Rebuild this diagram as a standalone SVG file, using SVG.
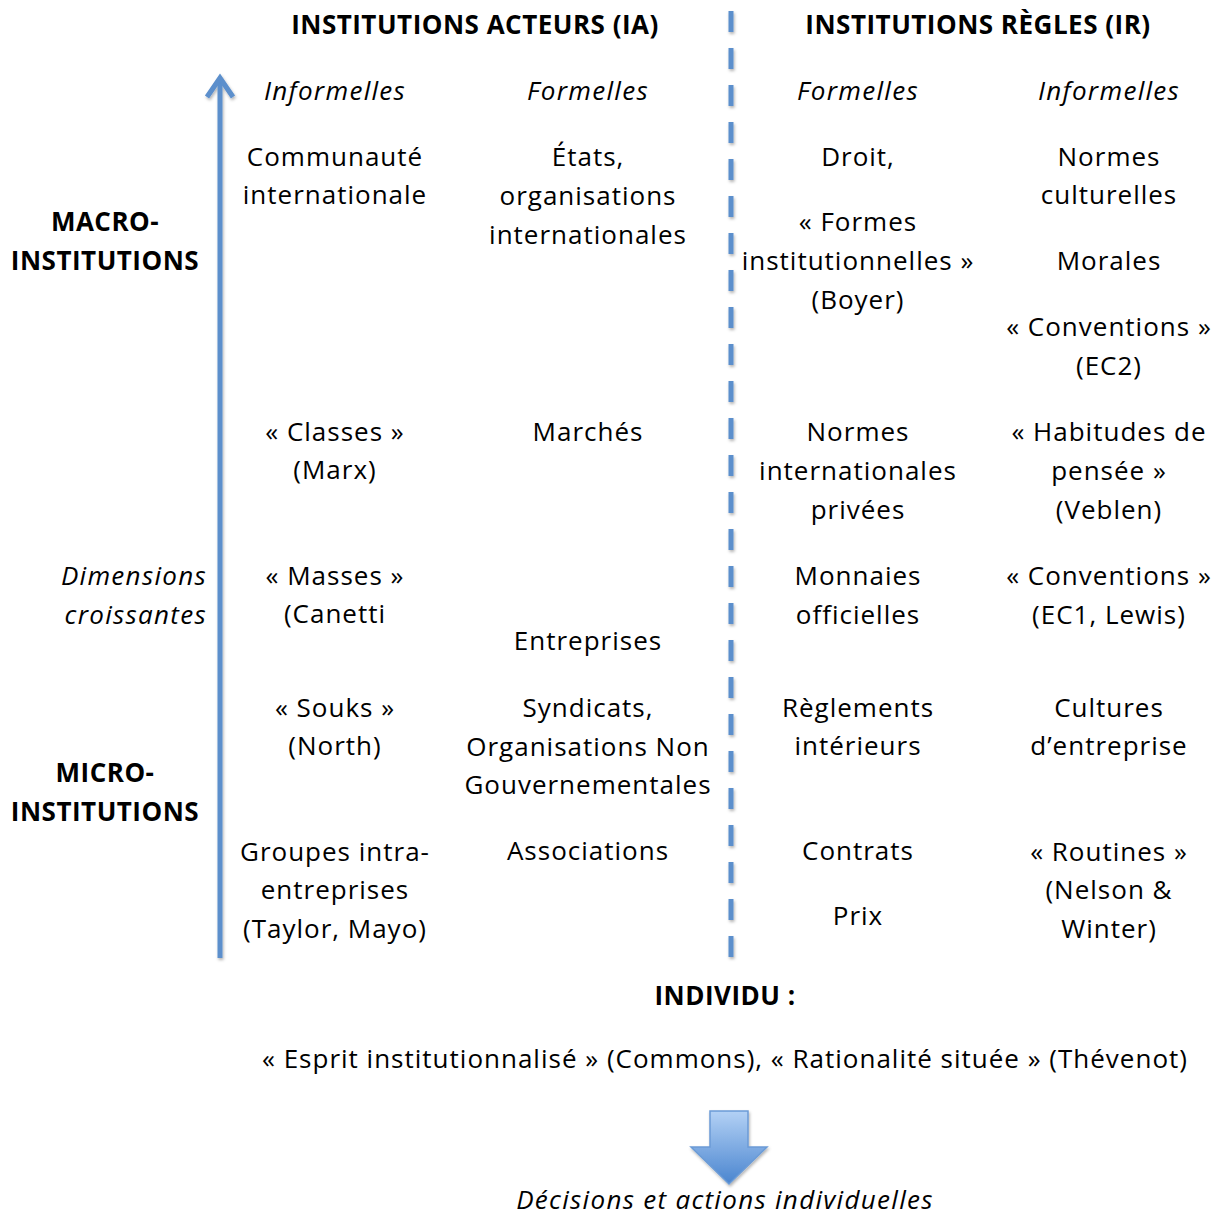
<svg xmlns="http://www.w3.org/2000/svg" width="1223" height="1215" viewBox="0 0 1223 1215">
<defs>
<style>
text{font-family:"Open Sans",Lato,"Liberation Sans",sans-serif;font-size:26px;letter-spacing:1px;fill:#000;text-anchor:middle}
.b{font-weight:bold;letter-spacing:0.5px}
.i{font-style:italic;letter-spacing:1.3px}
.r{text-anchor:end}
</style>
<linearGradient id="g" x1="0" y1="0" x2="0" y2="1">
<stop offset="0" stop-color="#b3d1f5"/>
<stop offset="1" stop-color="#4a85cf"/>
</linearGradient>
<filter id="sh" filterUnits="userSpaceOnUse" x="0" y="0" width="1223" height="1215">
<feDropShadow dx="1" dy="2" stdDeviation="1.5" flood-color="#000" flood-opacity="0.3"/>
</filter>
</defs>
<rect width="1223" height="1215" fill="#fff"/>
<g id="connectors">
<line id="separator" x1="731" y1="11" x2="731" y2="962" stroke="#5b8fcc" stroke-width="5" stroke-dasharray="21 16" filter="url(#sh)"/>
<g id="dimension-arrow" filter="url(#sh)" stroke="#5b8fcc" stroke-width="5" fill="none">
<line x1="220" y1="958" x2="220" y2="80"/>
<polyline points="207,97 220,78 233,97"/>
</g>
<path id="down-arrow" d="M710,1111 H748 V1147 H767 L729,1184 L691,1147 H710 Z" fill="url(#g)" stroke="#6b9bd6" stroke-width="1.5" filter="url(#sh)"/>
</g>
<g id="headers">
<text class="b" x="475" y="34">INSTITUTIONS ACTEURS (IA)</text>
<text class="b" x="978" y="34">INSTITUTIONS RÈGLES (IR)</text>
<text class="i" x="335" y="100">Informelles</text>
<text class="i" x="588" y="100">Formelles</text>
<text class="i" x="858" y="100">Formelles</text>
<text class="i" x="1109" y="100">Informelles</text>
</g>
<g id="levels">
<text class="b" x="105" y="231">MACRO-</text>
<text class="b" x="105" y="270">INSTITUTIONS</text>
<text class="i r" x="207" y="585">Dimensions</text>
<text class="i r" x="207" y="624">croissantes</text>
<text class="b" x="105" y="782">MICRO-</text>
<text class="b" x="105" y="821">INSTITUTIONS</text>
</g>
<g id="ia-informelles">
<text x="335" y="166">Communauté</text>
<text x="335" y="204">internationale</text>
<text x="335" y="441">« Classes »</text>
<text x="335" y="479">(Marx)</text>
<text x="335" y="585">« Masses »</text>
<text x="335" y="623">(Canetti</text>
<text x="335" y="717">« Souks »</text>
<text x="335" y="755">(North)</text>
<text x="335" y="861">Groupes intra-</text>
<text x="335" y="899">entreprises</text>
<text x="335" y="938">(Taylor, Mayo)</text>
</g>
<g id="ia-formelles">
<text x="588" y="166">États,</text>
<text x="588" y="205">organisations</text>
<text x="588" y="244">internationales</text>
<text x="588" y="441">Marchés</text>
<text x="588" y="650">Entreprises</text>
<text x="588" y="717">Syndicats,</text>
<text x="588" y="756">Organisations Non</text>
<text x="588" y="794">Gouvernementales</text>
<text x="588" y="860">Associations</text>
</g>
<g id="ir-formelles">
<text x="858" y="166">Droit,</text>
<text x="858" y="231">« Formes</text>
<text x="858" y="270">institutionnelles »</text>
<text x="858" y="309">(Boyer)</text>
<text x="858" y="441">Normes</text>
<text x="858" y="480">internationales</text>
<text x="858" y="519">privées</text>
<text x="858" y="585">Monnaies</text>
<text x="858" y="624">officielles</text>
<text x="858" y="717">Règlements</text>
<text x="858" y="755">intérieurs</text>
<text x="858" y="860">Contrats</text>
<text x="858" y="925">Prix</text>
</g>
<g id="ir-informelles">
<text x="1109" y="166">Normes</text>
<text x="1109" y="204">culturelles</text>
<text x="1109" y="270">Morales</text>
<text x="1109" y="336">« Conventions »</text>
<text x="1109" y="375">(EC2)</text>
<text x="1109" y="441">« Habitudes de</text>
<text x="1109" y="480">pensée »</text>
<text x="1109" y="519">(Veblen)</text>
<text x="1109" y="585">« Conventions »</text>
<text x="1109" y="624">(EC1, Lewis)</text>
<text x="1109" y="717">Cultures</text>
<text x="1109" y="755">d’entreprise</text>
<text x="1109" y="861">« Routines »</text>
<text x="1109" y="899">(Nelson &amp;</text>
<text x="1109" y="938">Winter)</text>
</g>
<g id="individu">
<text class="b" x="725" y="1005">INDIVIDU :</text>
<text x="725" y="1068">« Esprit institutionnalisé » (Commons), « Rationalité située » (Thévenot)</text>
<text class="i" x="725" y="1209">Décisions et actions individuelles</text>
</g>
</svg>
